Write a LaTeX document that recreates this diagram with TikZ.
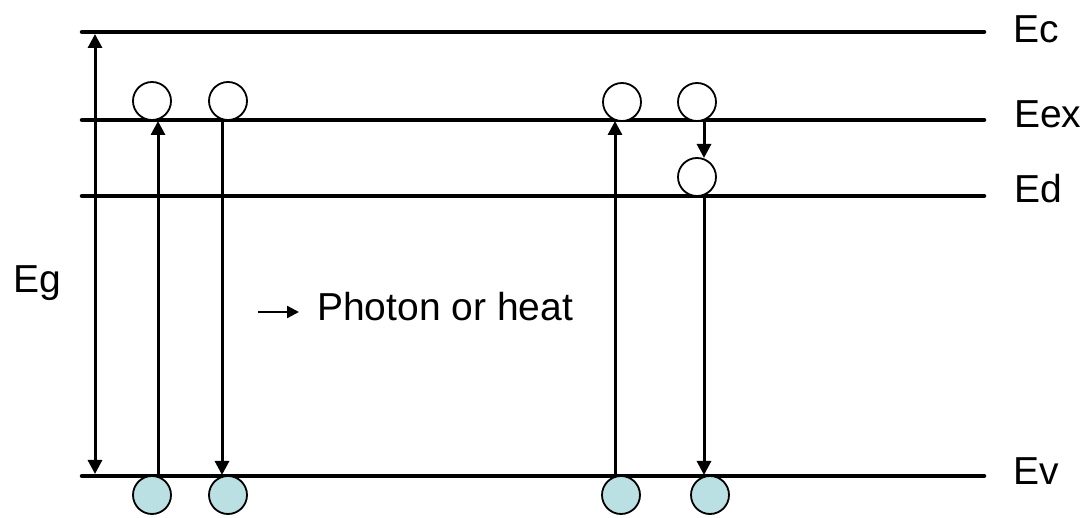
\documentclass[tikz,border=0pt]{standalone}
\usepackage{fontspec}
\setmainfont{Liberation Sans}
\usetikzlibrary{arrows.meta}
\definecolor{holefill}{HTML}{BAE0E3}
\tikzset{
  level/.style={line width=4.5pt, line cap=round},
  trans/.style={line width=3pt, -{Triangle[length=14pt,width=14pt]}},
  gap/.style={line width=3pt, {Triangle[length=14pt,width=14pt]}-{Triangle[length=14pt,width=14pt]}},
  elec/.style={circle, draw, line width=1.8pt, fill=white, minimum size=38pt, inner sep=0pt},
  hole/.style={elec, fill=holefill},
  lbl/.style={font=\fontsize{39}{46}\selectfont, inner sep=0pt, anchor=base west}
}
\begin{document}
\begin{tikzpicture}[x=1pt,y=-1pt]
\useasboundingbox (0,0) rectangle (1090,518);
% levels
\coordinate (cL) at (82,32);  \coordinate (cR) at (984,32);
\coordinate (xL) at (82,120); \coordinate (xR) at (984,120);
\coordinate (dL) at (82,196); \coordinate (dR) at (984,196);
\coordinate (vL) at (82,476); \coordinate (vR) at (984,476);
\draw[level] (cL) -- (cR);
\draw[level] (xL) -- (xR);
\draw[level] (dL) -- (dR);
\draw[level] (vL) -- (vR);
% labels
\node[lbl] (Ec) at (1013,43) {Ec};
\node[lbl] (Eex) at (1014,128) {Eex};
\node[lbl] (Ed) at (1014,203) {Ed};
\node[lbl] (Ev) at (1013,484) {Ev};
\node[lbl] (Eg) at (13,293) {Eg};
% band gap arrow
\coordinate (gT) at (95,34);
\coordinate (gB) at (95,474);
\draw[gap] (gB) -- (gT);
% electrons (open circles)
\node[elec] (e1) at (152,101) {};
\node[elec] (e2) at (228,101) {};
\node[elec] (e3) at (622,102) {};
\node[elec] (e4) at (697,102) {};
\node[elec] (e5) at (697,177) {};
% holes (filled circles)
\node[hole] (h1) at (152,495) {};
\node[hole] (h2) at (228,495) {};
\node[hole] (h3) at (621,495) {};
\node[hole] (h4) at (710,495) {};
% transitions
\coordinate (a1s) at (158,476); \coordinate (a1e) at (158,121);
\coordinate (a2s) at (222,120); \coordinate (a2e) at (222,475);
\coordinate (a3s) at (615,476); \coordinate (a3e) at (615,121);
\coordinate (a4s) at (704,120); \coordinate (a4e) at (704,158);
\coordinate (a5s) at (704,197); \coordinate (a5e) at (704,475);
\draw[trans] (a1s) -- (a1e);
\draw[trans] (a2s) -- (a2e);
\draw[trans] (a3s) -- (a3e);
\draw[trans] (a4s) -- (a4e);
\draw[trans] (a5s) -- (a5e);
% legend
\node[lbl] (ph) at (317,321) {Photon or heat};
\coordinate (pa) at (258,312);
\coordinate (pb) at (299,312);
\draw[line width=2.4pt, -{Triangle[length=12pt,width=12pt]}] (pa) -- (pb);
\end{tikzpicture}
\end{document}
